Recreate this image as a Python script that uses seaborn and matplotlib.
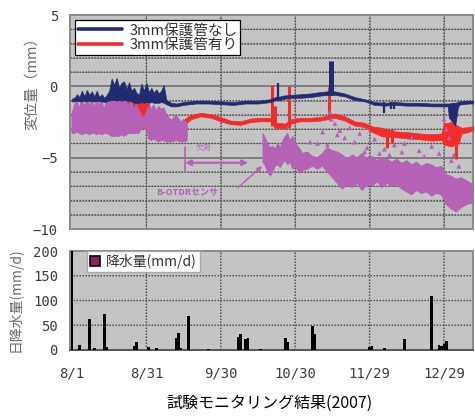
"""Displacement and daily rainfall monitoring chart (2007)."""

import matplotlib

matplotlib.use("Agg")
import matplotlib.pyplot as plt
import numpy as np
import pandas as pd
import seaborn as sns
from matplotlib.collections import LineCollection
from matplotlib.lines import Line2D

BLUE = "#222a70"
RED = "#f42b2b"
PURPLE = "#b461b6"
PANEL = "#c4c4c4"
GRID_DARK = "#4a4a4a"
GRID_FAINT = "#999999"
TICK_COLOR = "#3c3c3c"

# x axis: days since 8/1
TICK_DAYS = [0, 30, 60, 90, 120, 150]
TICK_LABELS = ["8/1", "8/31", "9/30", "10/30", "11/29", "12/29"]

# 3mm 保護管なし (blue band, lower/upper edge in mm)
BLUE_DAY = [0, 1, 2, 3, 4, 5, 6, 7, 8, 9, 10, 11, 12, 13, 14, 15, 16, 17, 18, 19,
            20, 21, 22, 23, 24, 25, 26, 27, 28, 29, 30, 31, 32, 33, 34, 35, 36, 37,
            38, 40, 42, 45, 50, 55, 60, 65, 70, 75, 80, 82, 84, 85, 88, 92, 96, 100,
            103, 106, 110, 114, 118, 122, 126, 130, 135, 140, 145, 150, 151.5, 152,
            153.5, 154.5, 155.5, 156, 157, 160, 162.5]
BLUE_LO = [-1.05, -1.05, -1.0, -1.05, -1.05, -1.0, -1.05, -1.0, -1.05, -1.05, -1.0, -1.05,
           -1.05, -1.1, -1.05, -1.0, -0.95, -0.95, -1.0, -0.95, -1.0, -0.95, -1.0, -1.0,
           -1.05, -1.15, -1.15, -1.15, -1.1, -1.15, -1.1, -1.15, -1.1, -1.15, -1.15, -1.15,
           -1.1, -1.15, -1.25, -1.4, -1.4, -1.3, -1.2, -1.2, -1.25, -1.3, -1.2, -1.2,
           -1.1, -0.95, -0.95, -0.9, -0.8, -0.8, -0.75, -0.65, -0.6, -0.6, -0.7, -0.95,
           -1.05, -1.3, -1.35, -1.3, -1.35, -1.35, -1.4, -1.4, -1.4, -2.2, -2.5, -2.75,
           -1.6, -1.3, -1.25, -1.2, -1.2]
BLUE_HI = [-0.85, -0.8, -0.55, -0.75, -0.3, -0.7, -0.25, -0.6, -0.35, -0.7, -0.3, -0.75,
           -0.55, -0.8, -0.6, -0.3, 0.55, 0.1, 0.6, -0.1, 0.25, 0.35, -0.2, 0.3, -0.3,
           -0.1, -0.45, -0.6, 0.2, -0.3, 0.25, -0.4, -0.1, -0.45, -0.2, -0.5, -0.3, 0.1,
           -0.95, -1.15, -1.2, -1.1, -1.0, -1.0, -1.05, -1.1, -1.0, -1.0, -0.9, -0.75,
           -0.7, -0.65, -0.6, -0.55, -0.5, -0.4, -0.35, -0.35, -0.5, -0.75, -0.9, -1.1,
           -1.15, -1.1, -1.15, -1.15, -1.2, -1.2, -1.2, -1.2, -1.15, -1.15, -1.1, -1.05,
           -1.05, -1.0, -1.0]
BLUE_SPIKE_DAY = [83, 104.3, 126, 128.5, 130]
BLUE_SPIKE_LOW = [-1.0, -0.6, -1.85, -1.6, -1.55]
BLUE_SPIKE_HIGH = [0.25, 1.75, -1.1, -1.1, -1.1]

# 3mm 保護管有り (red band)
RED_DAY = [0, 10, 16, 18, 20, 24, 27, 28, 31, 32, 36, 40, 44, 46, 48, 52, 56, 60, 64, 68,
           72, 76, 80, 81, 82, 86, 88, 92, 96, 100, 103, 106, 110, 114, 118, 121, 125,
           130, 135, 140, 145, 149, 150, 153, 156, 157, 160, 162.5]
RED_LO = [-2.4, -2.4, -2.2, -1.3, -1.4, -1.5, -1.6, -2.2, -2.2, -2.3, -2.5, -2.7, -2.9,
          -2.6, -2.3, -2.1, -2.2, -2.45, -2.65, -2.7, -2.5, -2.45, -2.45, -2.6, -2.9,
          -2.95, -2.6, -2.45, -2.45, -2.4, -2.3, -2.2, -2.4, -2.75, -2.85, -3.2, -3.5,
          -3.55, -3.65, -3.7, -3.8, -3.75, -4.1, -4.2, -4.0, -3.3, -3.2, -3.0]
RED_HI = [-2.0, -2.0, -1.8, -0.9, -0.7, -0.8, -0.9, -1.1, -1.2, -1.8, -2.1, -2.3, -2.5,
          -2.2, -2.0, -1.85, -1.95, -2.15, -2.4, -2.45, -2.25, -2.2, -2.2, -2.3, -2.55,
          -2.6, -2.3, -2.2, -2.2, -2.15, -2.05, -1.9, -2.1, -2.45, -2.55, -2.8, -2.9,
          -3.15, -3.2, -3.3, -3.35, -3.3, -2.6, -2.5, -2.8, -2.9, -2.85, -2.75]
RED_SPIKE_DAY = [80.8, 82, 87.5, 103.6, 127, 129, 155]
RED_SPIKE_LOW = [-2.8, -2.9, -2.9, -2.3, -4.3, -4.0, -5.1]
RED_SPIKE_HIGH = [0.1, -1.4, 0.0, -0.05, -3.0, -3.0, -3.0]

# B-OTDR センサ (purple band, gap = 欠測)
PURPLE_DAY = [0, 1, 2, 3, 4, 5, 6, 7, 8, 9, 10, 11, 12, 13, 14, 15, 16, 17, 18, 19, 20,
              21, 22, 23, 24, 25, 26, 27, 28, 29, 30, 31, 32, 33, 34, 35, 36, 37, 38, 40,
              42, 44, 45, 46.5, 47, 76, 77, 78, 79, 80, 81, 82, 83, 84, 85, 86, 87, 88,
              89, 90, 91, 92, 93, 95, 97, 99, 101, 103, 105, 107, 109, 111, 113, 115, 117,
              119, 121, 123, 125, 127, 129, 131, 133, 135, 137, 139, 141, 143, 145, 147,
              149, 151, 153, 155, 157, 159, 161, 162.5]
PURPLE_LO = [-3.3, -3.3, -3.2, -3.3, -3.4, -3.3, -3.3, -3.4, -3.3, -3.3, -3.4, -3.3, -3.4,
             -3.3, -3.3, -3.4, -3.5, -3.5, -3.5, -3.5, -3.4, -3.5, -3.4, -3.3, -3.3, -3.3,
             -3.3, -3.3, -3.0, -2.9, -3.1, -3.7, -3.8, -3.7, -3.8, -3.9, -3.8, -3.8, -3.9,
             -3.9, -3.8, -3.9, -3.9, -3.8, np.nan, np.nan, -5.3, -5.6, -6.0, -6.3, -6.0,
             -5.6, -5.5, -5.7, -5.4, -5.2, -5.5, -5.3, -5.8, -5.6, -5.9, -6.1, -5.9, -5.8,
             -5.6, -5.8, -5.6, -6.0, -6.4, -6.8, -7.2, -6.9, -7.1, -6.8, -7.3, -6.9, -7.0,
             -6.7, -7.1, -6.8, -7.0, -6.9, -7.2, -7.4, -7.6, -7.3, -7.5, -7.4, -7.7, -7.5,
             -7.6, -8.3, -8.6, -8.8, -8.5, -8.3, -8.2, -8.1]
PURPLE_HI = [-1.9, -1.3, -1.0, -1.5, -0.9, -1.4, -0.8, -1.3, -0.9, -1.5, -0.8, -1.3, -1.0,
             -1.6, -0.9, -1.3, -0.6, -0.9, -0.5, -1.0, -0.7, -1.1, -0.9, -1.4, -1.0, -1.6,
             -1.2, -1.7, -2.0, -2.2, -1.8, -1.4, -1.6, -1.3, -1.7, -1.4, -1.6, -1.5, -1.9,
             -2.4, -2.0, -2.5, -2.3, -2.6, np.nan, np.nan, -3.3, -3.6, -4.0, -4.3, -4.2,
             -4.4, -4.0, -4.3, -3.8, -3.5, -3.3, -3.8, -3.5, -3.9, -4.2, -4.4, -4.7, -4.6,
             -4.9, -5.0, -4.7, -4.3, -4.5, -4.6, -4.8, -5.1, -4.8, -5.0, -4.7, -5.1, -4.9,
             -5.2, -5.0, -5.1, -5.3, -5.1, -5.4, -5.2, -5.5, -5.3, -5.6, -5.4, -5.5, -5.7,
             -5.6, -6.2, -6.3, -6.5, -6.4, -6.6, -6.8, -7.0]
PURPLE_PT_DAY = [96, 99, 101, 103, 104, 104.5, 106, 107, 108, 110, 112, 114, 116, 118,
                 119, 122, 124, 126, 128, 130, 133, 134, 137, 140, 142, 145, 148, 150,
                 151, 152, 153, 154, 156]
PURPLE_PT_MM = [-3.9, -4.0, -3.2, -4.1, -1.8, -2.3, -2.6, -3.4, -3.1, -3.6, -2.9, -3.9,
                -3.3, -4.6, -4.3, -3.7, -4.7, -4.4, -4.8, -4.1, -4.6, -4.0, -3.6, -4.5,
                -4.9, -4.2, -4.7, -2.3, -3.0, -3.6, -5.2, -4.8, -5.6]

# daily rainfall (mm/d)
RAIN_DAY = [0, 3, 7, 9, 13, 14, 25, 26, 31, 34, 42, 43, 44, 47, 55, 67, 68, 70, 71, 76,
            86, 87, 97, 98, 120, 121, 126, 134, 145, 148, 149, 150, 151]
RAIN_MM = [210, 10, 62, 5, 73, 7, 8, 17, 7, 5, 25, 35, 5, 68, 3, 27, 32, 22, 25, 3,
           25, 17, 49, 33, 6, 9, 4, 22, 110, 10, 8, 12, 18]

XLIM = (-0.6, 161.7)
TOP_RECT = [0.1484, 0.452, 0.8474, 0.512]
RAIN_RECT = [0.1484, 0.1627, 0.8474, 0.2368]
DOT_STEP_PX = 3.0
DOT_LEN_PX = 1.5


def _background(rect, ylim, dotted_levels, solid_levels, faint_lines):
    """Grey panel with a dotted grid beneath the data axes."""

    back = fig.add_axes(rect, zorder=0)
    back.set_facecolor(PANEL)
    back.set_xlim(*XLIM)
    back.set_ylim(*ylim)
    back.set_xticks([])
    back.set_yticks([])
    for spine in back.spines.values():
        spine.set_visible(False)

    if faint_lines:
        # thin continuous guide under the dots so the grid always reads
        back.hlines(dotted_levels, XLIM[0], XLIM[1], color=GRID_FAINT, linewidth=0.7)
        back.vlines(TICK_DAYS[1:], ylim[0], ylim[1], color=GRID_FAINT, linewidth=0.7)

    x_per_px = (XLIM[1] - XLIM[0]) / (rect[2] * fig.get_figwidth() * fig.dpi)
    y_per_px = (ylim[1] - ylim[0]) / (rect[3] * fig.get_figheight() * fig.dpi)
    segments = []
    for level in dotted_levels:
        for start in np.arange(XLIM[0], XLIM[1], DOT_STEP_PX * x_per_px):
            segments.append([(start, level), (start + DOT_LEN_PX * x_per_px, level)])
    for day in TICK_DAYS[1:]:
        for start in np.arange(ylim[0], ylim[1], DOT_STEP_PX * y_per_px):
            segments.append([(day, start), (day, start + DOT_LEN_PX * y_per_px)])
    dots = LineCollection(segments, colors=GRID_DARK, linewidths=1.0, capstyle="butt")
    dots.set_snap(False)
    back.add_collection(dots)
    if solid_levels:
        back.hlines(solid_levels, XLIM[0], XLIM[1], color="#7c7c7c", linewidth=1.4)
    return back


def _style_panel(axis, ylim, yticks):
    axis.set_facecolor("none")
    axis.grid(False)
    axis.set_xlim(*XLIM)
    axis.set_ylim(*ylim)
    axis.set_xticks(TICK_DAYS)
    axis.set_yticks(yticks)
    axis.set_xlabel("")
    axis.set_ylabel("")
    axis.tick_params(length=0, pad=9, colors=TICK_COLOR, labelsize=10)
    for label in axis.get_yticklabels() + axis.get_xticklabels():
        label.set_family("DejaVu Sans Mono")
    for spine in axis.spines.values():
        spine.set_color("#8a8a8a")
        spine.set_linewidth(1.4)


sns.set_theme(style="white")
plt.rcParams["font.family"] = ["Noto Sans CJK JP", "DejaVu Sans"]

fig = plt.figure(figsize=(4.75, 4.18), dpi=100)
_background(TOP_RECT, (-10, 5), [v for v in range(-9, 5) if v % 5 != 0], [-5, 0], True)
_background(RAIN_RECT, (0, 200), [50, 100, 150], [], False)
ax = fig.add_axes(TOP_RECT, zorder=1)
ax_rain = fig.add_axes(RAIN_RECT, zorder=1)

# --- displacement panel ---
ax.fill_between(RED_DAY, RED_LO, RED_HI, color=RED, linewidth=0.5, zorder=3)
ax.vlines(RED_SPIKE_DAY, RED_SPIKE_LOW, RED_SPIKE_HIGH, color=RED, linewidth=2.2, zorder=3)
ax.fill_between(PURPLE_DAY, PURPLE_LO, PURPLE_HI, color=PURPLE, linewidth=0.6, zorder=4)
ax.fill_between(BLUE_DAY, BLUE_LO, BLUE_HI, color=BLUE, linewidth=0.5, zorder=5)
ax.vlines(BLUE_SPIKE_DAY, BLUE_SPIKE_LOW, BLUE_SPIKE_HIGH, color=BLUE,
          linewidth=[1.6, 3.6, 1.6, 1.6, 1.6], zorder=5)
points = pd.DataFrame({"day": PURPLE_PT_DAY, "mm": PURPLE_PT_MM})
sns.scatterplot(data=points, x="day", y="mm", marker="^", s=12, color=PURPLE,
                edgecolor="none", ax=ax, zorder=6)
_style_panel(ax, (-10, 5), [-10, -5, 0, 5])
ax.tick_params(axis="x", labelbottom=False)

# 欠測 / B-OTDRセンサ annotations
ax.plot([45.6, 45.6], [-4.25, -6.0], color=PURPLE, linewidth=1.2, zorder=6)
ax.annotate("", xy=(45.6, -5.35), xytext=(71.0, -5.35),
            arrowprops=dict(arrowstyle="<|-|>", color=PURPLE, lw=1.6, mutation_scale=8,
                            shrinkA=0, shrinkB=0), zorder=6)
ax.text(53.0, -4.3, "欠測", color=PURPLE, fontsize=5.5, ha="center", va="center", zorder=6)
ax.annotate("", xy=(76.6, -5.6), xytext=(66.9, -7.1),
            arrowprops=dict(arrowstyle="-|>", color=PURPLE, lw=1.0, mutation_scale=7,
                            shrinkA=0, shrinkB=0), zorder=6)
ax.text(46.4, -7.4, "B-OTDRセンサ", color=PURPLE, fontsize=6.5, fontweight="bold",
        ha="center", va="center", zorder=6)

handles = [Line2D([], [], color=BLUE, linewidth=2.6), Line2D([], [], color=RED, linewidth=2.6)]
legend = ax.legend(handles, ["3mm保護管なし", "3mm保護管有り"], loc="upper left",
                   bbox_to_anchor=(0.012, 0.975), fontsize=10.5, frameon=True, fancybox=False,
                   framealpha=1, edgecolor="black", handlelength=3.0, labelspacing=0.05,
                   borderpad=0.2, handletextpad=0.5, borderaxespad=0)
legend.get_frame().set_linewidth(0.9)
legend.set_zorder(10)
for text in legend.get_texts():
    text.set_color("#333333")

# --- rainfall panel ---
sns.barplot(x=RAIN_DAY, y=RAIN_MM, native_scale=True, color="black", width=1.1,
            linewidth=0, saturation=1, errorbar=None, ax=ax_rain, zorder=3)
_style_panel(ax_rain, (0, 200), [0, 50, 100, 150, 200])
ax_rain.set_xticklabels(TICK_LABELS)
for label in ax_rain.get_xticklabels():
    label.set_family("DejaVu Sans Mono")
ax_rain.tick_params(axis="x", pad=12)
ax_rain.spines["bottom"].set_color("#555555")

rain_handle = Line2D([], [], linestyle="none", marker="s", markersize=7,
                     markerfacecolor="#8c1f5e", markeredgecolor="black", markeredgewidth=1.2)
rain_legend = ax_rain.legend([rain_handle], ["降水量(mm/d)"], loc="upper left",
                             bbox_to_anchor=(0.04, 1.0), fontsize=10, frameon=True,
                             fancybox=False, framealpha=1, edgecolor="#aaaaaa",
                             handlelength=0.8, handletextpad=0.4, borderpad=0.2,
                             borderaxespad=0)
rain_legend.set_zorder(10)
for text in rain_legend.get_texts():
    text.set_color("#333333")

# axis titles and caption
fig.text(32 / 475, 1 - 80 / 418, "変位量（mm）", rotation=90, ha="center", va="center",
         fontsize=10.5, color="#6a6a6a")
fig.text(15 / 475, 1 - 300 / 418, "日降水量(mm/d)", rotation=90, ha="center", va="center",
         fontsize=10, color="#6a6a6a")
fig.text(270 / 475, 1 - 403 / 418, "試験モニタリング結果(2007)", ha="center", va="center",
         fontsize=11.5, color="black")

fig.savefig("out.png", dpi=100, facecolor="white")
